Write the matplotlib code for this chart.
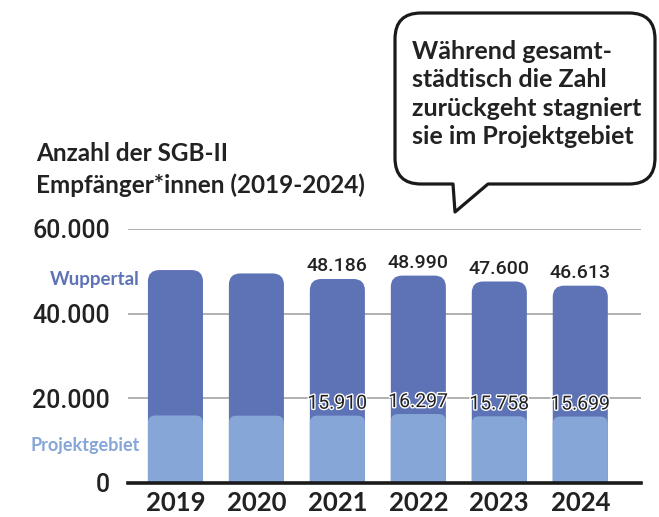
import matplotlib
matplotlib.use("Agg")
import matplotlib.pyplot as plt
import matplotlib.patheffects as pe
from matplotlib.patches import FancyBboxPatch, PathPatch
from matplotlib.path import Path

# Daten
years = ["2019", "2020", "2021", "2022", "2023", "2024"]
wuppertal = [50300, 49500, 48186, 48990, 47600, 46613]
projektgebiet = [15950, 15900, 15910, 16297, 15758, 15699]
wuppertal_labels = ["", "", "48.186", "48.990", "47.600", "46.613"]
projekt_labels = ["", "", "15.910", "16.297", "15.758", "15.699"]
yticks = [0, 20000, 40000, 60000]
ytick_labels = ["0", "20.000", "40.000", "60.000"]

title_lines = ["Anzahl der SGB-II", "Empfänger*innen (2019-2024)"]
bubble_lines = ["Während gesamt-", "städtisch die Zahl",
                "zurückgeht stagniert", "sie im Projektgebiet"]

dark = "#5e73b6"
light = "#86a6d7"
txt = "#222222"

plt.rcParams["font.family"] = ["Lato", "DejaVu Sans"]

W, H = 659, 517
fig = plt.figure(figsize=(W / 100, H / 100), dpi=100)


def fx(px):
    return px / W


def fy(py):
    return 1 - py / H


ax = fig.add_axes([fx(128), fy(483), fx(641) - fx(128), fy(229) - fy(483)])
ax.set_xlim(-0.586, 5.75)
ax.set_ylim(0, 60000)

# Seitenverhältnis Daten-x zu Daten-y (für runde Ecken)
p0 = ax.transData.transform((0, 0))
p1 = ax.transData.transform((1, 1))
aspect = (p1[0] - p0[0]) / (p1[1] - p0[1])

bw = 0.68
for i, (w, p) in enumerate(zip(wuppertal, projektgebiet)):
    for val, col, r in [(w, dark, 0.14), (p, light, 0.09)]:
        bar = FancyBboxPatch((i - bw / 2, -6000), bw, val + 6000,
                             boxstyle=f"round,pad=0,rounding_size={r}",
                             mutation_aspect=aspect, fc=col, ec="none", zorder=2)
        ax.add_patch(bar)
    if wuppertal_labels[i]:
        ax.annotate(wuppertal_labels[i], (i, w), xytext=(0, 5.5), textcoords="offset points",
                    ha="center", va="baseline", fontsize=14, color=txt,
                    family="Roboto", weight="medium", zorder=4)
    if projekt_labels[i]:
        ax.annotate(projekt_labels[i], (i, p), xytext=(0, 5), textcoords="offset points",
                    ha="center", va="baseline", fontsize=14, color=txt,
                    family="Roboto", zorder=4,
                    path_effects=[pe.withStroke(linewidth=2, foreground="white")])

ax.set_yticks(yticks, ytick_labels)
ax.set_xticks(range(len(years)), years)
ax.tick_params(axis="y", length=0, pad=13, labelsize=18, labelcolor=txt)
ax.tick_params(axis="x", length=0, pad=6, labelsize=18.5, labelcolor=txt)
for lab in ax.get_yticklabels():
    lab.set_family("Roboto")
    lab.set_fontweight("medium")
for lab in ax.get_xticklabels():
    lab.set_fontweight("bold")

ax.grid(axis="y", color="#aaaaaa", lw=1.3, zorder=0.5)
ax.set_axisbelow(True)
for s in ax.spines.values():
    s.set_visible(False)
ax.axhline(0, color="#1a1a1a", lw=2.6, zorder=3, clip_on=False)

# Legendenbeschriftung
fig.text(fx(140), fy(279), "Wuppertal", ha="right", va="center",
         fontsize=13.5, weight="bold", color=dark)
fig.text(fx(140), fy(445), "Projektgebiet", ha="right", va="center",
         fontsize=13, weight="bold", color=light)

# Titel
fig.text(fx(36), fy(161), title_lines[0], ha="left", va="baseline",
         fontsize=17.5, weight="bold", color=txt)
fig.text(fx(36), fy(193), title_lines[1], ha="left", va="baseline",
         fontsize=17.5, weight="bold", color=txt)

# Sprechblase
L, R, T, B, r = 395, 655, 13, 184, 26
x1, x2, tipx, tipy = 453, 488, 455, 212
pts = [
    ((L + r, T), Path.MOVETO),
    ((R - r, T), Path.LINETO),
    ((R, T), Path.CURVE3), ((R, T + r), Path.CURVE3),
    ((R, B - r), Path.LINETO),
    ((R, B), Path.CURVE3), ((R - r, B), Path.CURVE3),
    ((x2, B), Path.LINETO),
    ((tipx, tipy), Path.LINETO),
    ((x1, B), Path.LINETO),
    ((L + r, B), Path.LINETO),
    ((L, B), Path.CURVE3), ((L, B - r), Path.CURVE3),
    ((L, T + r), Path.LINETO),
    ((L, T), Path.CURVE3), ((L + r, T), Path.CURVE3),
    ((L + r, T), Path.CLOSEPOLY),
]
verts = [(fx(x), fy(y)) for (x, y), _ in pts]
codes = [c for _, c in pts]
bubble = PathPatch(Path(verts, codes), transform=fig.transFigure,
                   fc="white", ec="#1a1a1a", lw=2.3, joinstyle="round")
fig.add_artist(bubble)

for k, line in enumerate(bubble_lines):
    fig.text(fx(412), fy(59 + 28.3 * k), line, ha="left", va="baseline",
             fontsize=18, weight="bold", color=txt)

fig.savefig("out.png", dpi=100)
